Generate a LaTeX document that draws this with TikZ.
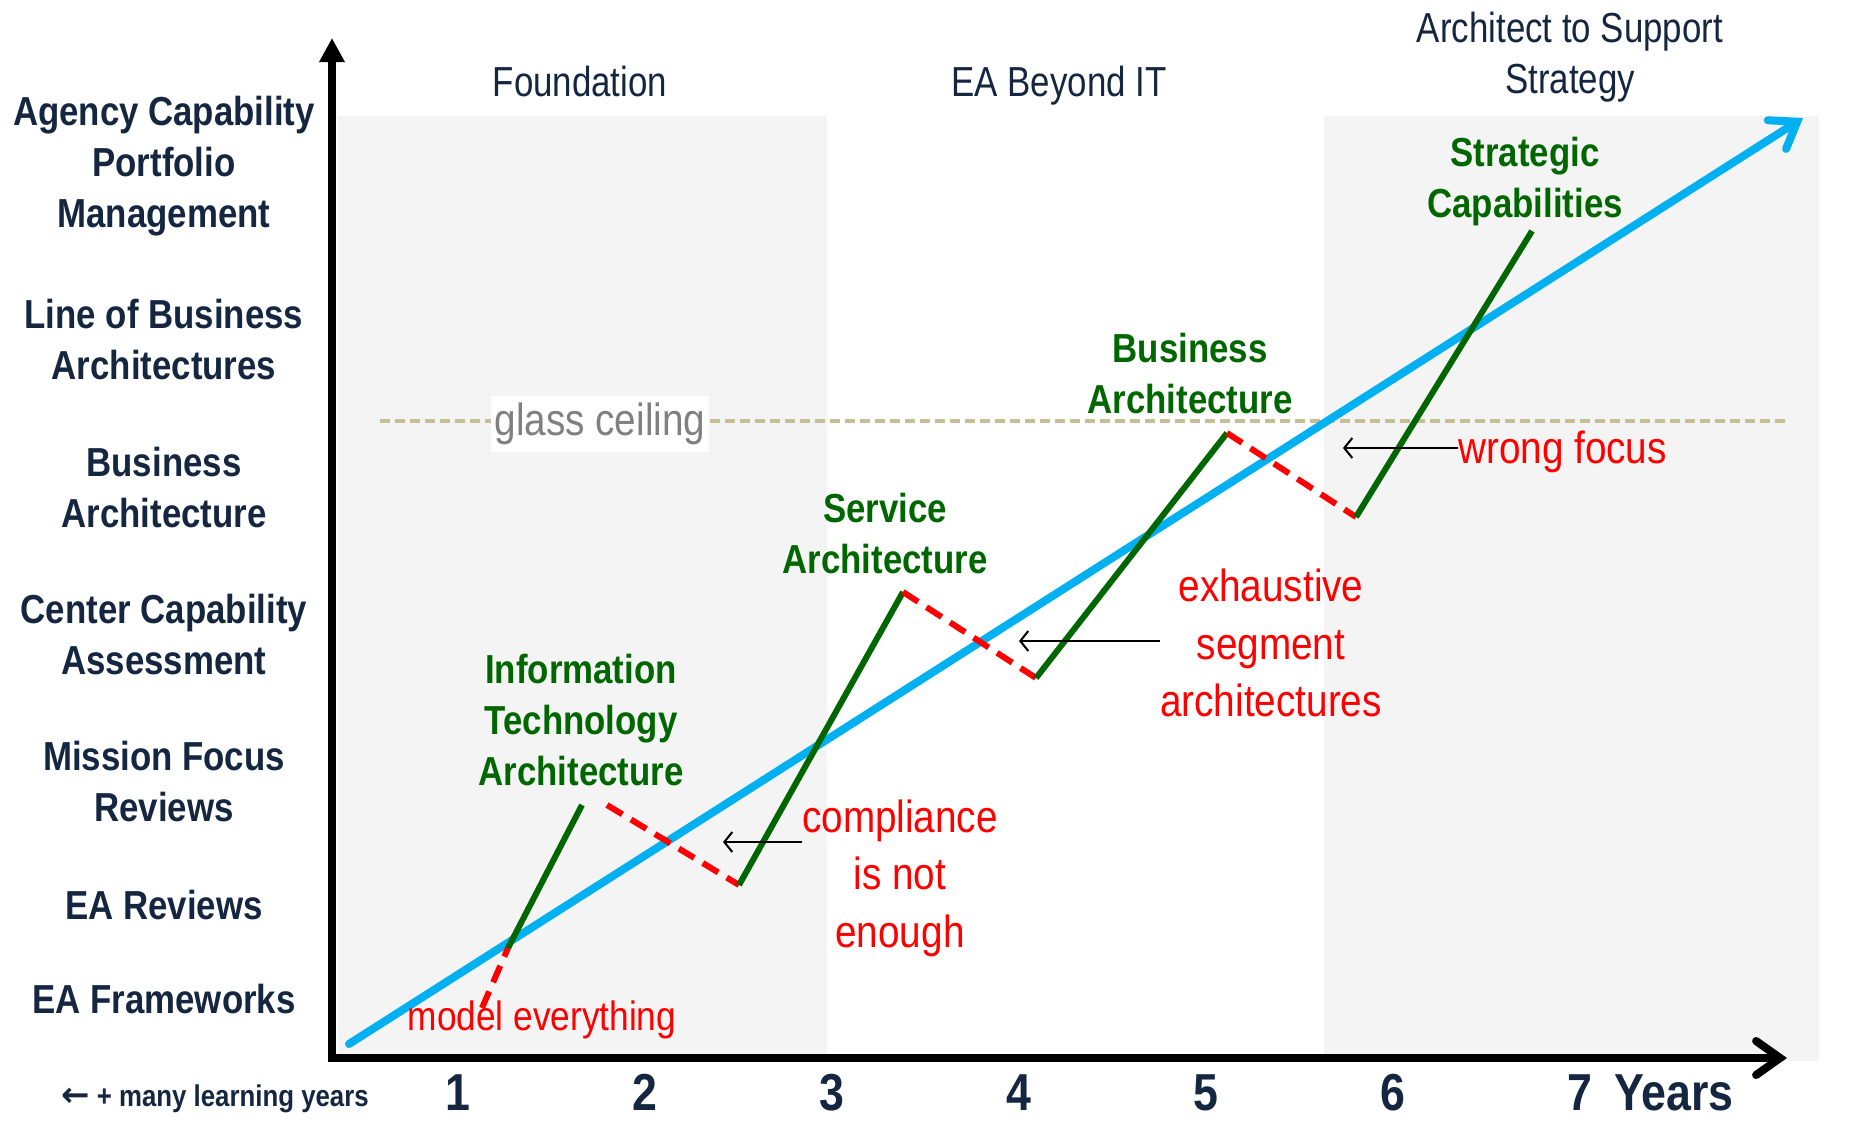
\documentclass[tikz,border=0pt]{standalone}
\usepackage{fontspec}
\setmainfont{Liberation Sans}[FakeStretch=0.86]
\newfontfamily\phasefont{Liberation Sans}[FakeStretch=0.83]
\newfontfamily\arrowfont{DejaVu Sans}
\usepackage{xcolor}
\usetikzlibrary{arrows.meta}

\definecolor{eatext}{RGB}{20,38,64}
\definecolor{eagreen}{RGB}{0,102,0}
\definecolor{eared}{RGB}{255,0,0}
\definecolor{eablue}{RGB}{0,176,240}
\definecolor{bandgray}{RGB}{244,244,244}
\definecolor{ceilingtan}{RGB}{200,190,150}
\definecolor{glassgray}{RGB}{128,128,128}

\begin{document}
\begin{tikzpicture}[x=1pt, y=-1pt,
    levellabel/.style={font=\fontsize{40.5}{51}\selectfont\bfseries, text=eatext, align=center, inner sep=0pt},
    phaselabel/.style={font=\fontsize{42}{51}\selectfont\phasefont, text=eatext, align=center, inner sep=0pt},
    yearlabel/.style={font=\fontsize{52}{56}\selectfont\bfseries, text=eatext, inner sep=0pt, anchor=base},
    stagelabel/.style={font=\fontsize{40.5}{51}\selectfont\bfseries, text=eagreen, align=center, inner sep=0pt},
    pitfalllabel/.style={font=\fontsize{45}{57.5}\selectfont, text=eared, align=center, inner sep=0pt},
    stageline/.style={eagreen, line width=6pt},
    pitfallline/.style={eared, line width=6pt, dash pattern=on 18pt off 10pt},
    pointer/.style={black, line width=2pt, -{Straight Barb[length=8pt,width=20pt]}}]
    \useasboundingbox (0,0) rectangle (1875,1122);

    % Bands
    \fill[bandgray] (338,116) rectangle (827,1061);
    \fill[bandgray] (1324,116) rectangle (1819,1061);

    % Glass ceiling
    \coordinate (ceilL) at (380,421);
    \coordinate (ceilR) at (1785,421);
    \draw[ceilingtan, line width=4pt, dash pattern=on 10pt off 5pt] (ceilL) -- (ceilR);
    \node[fill=white, inner xsep=4pt, inner ysep=7pt, text=glassgray, font=\fontsize{45}{50}\selectfont] (glass) at (600,424) {glass ceiling};

    % Growth line
    \coordinate (gstart) at (349,1044);
    \coordinate (gend) at (1803,118);
    \draw[eablue, line width=8pt, line cap=round, -{Straight Barb[length=24pt,width=34pt,line cap=round]}] (gstart) -- (gend);

    % Stages and pitfalls
    \coordinate (z0) at (482,1008);
    \coordinate (z1) at (508,948);
    \coordinate (z2) at (582,805);
    \coordinate (z3) at (607,805);
    \coordinate (z4) at (739,885);
    \coordinate (z5) at (903,592);
    \coordinate (z6) at (1036,678);
    \coordinate (z7) at (1227,433);
    \coordinate (z8) at (1356,517);
    \coordinate (z9) at (1532,231);
    \draw[pitfallline] (z0) -- (z1);
    \draw[stageline] (z1) -- (z2);
    \draw[pitfallline] (z3) -- (z4);
    \draw[stageline] (z4) -- (z5);
    \draw[pitfallline] (z5) -- (z6);
    \draw[stageline] (z6) -- (z7);
    \draw[pitfallline] (z7) -- (z8);
    \draw[stageline] (z8) -- (z9);

    % Axes
    \coordinate (ytop) at (332,38);
    \coordinate (origin) at (332,1058);
    \coordinate (xend) at (1787,1058);
    \draw[black, line width=8pt, {Triangle[length=24pt,width=24pt]}-{Straight Barb[length=24pt,width=34pt,line cap=round]}] (ytop) -- (origin) -- (xend);

    % Phases
    \node[phaselabel, anchor=base] (foundation) at (580,96) {Foundation};
    \node[phaselabel, anchor=base] (beyond) at (1059,96) {EA Beyond IT};
    \node[phaselabel] (strategy) at (1570,57) {Architect to Support\\Strategy};

    % Levels
    \node[levellabel] (agency) at (164,166) {Agency Capability\\Portfolio\\Management};
    \node[levellabel] (lob) at (164,340) {Line of Business\\Architectures};
    \node[levellabel] (busarch) at (164,488) {Business\\Architecture};
    \node[levellabel] (center) at (164,635) {Center Capability\\Assessment};
    \node[levellabel] (mission) at (164,782) {Mission Focus\\Reviews};
    \node[levellabel] (reviews) at (164,905) {EA Reviews};
    \node[levellabel] (frameworks) at (164,999) {EA Frameworks};

    % Years
    \node[levellabel, font=\fontsize{30}{36}\selectfont\bfseries] (learning) at (215,1099) {{\arrowfont\fontsize{34}{36}\selectfont ←} + many learning years};
    \foreach \n in {1,...,7}
        \node[yearlabel] (year\n) at ({458+187*(\n-1)},1110) {\n};
    \node[yearlabel] (years) at (1674,1110) {Years};

    % Stage labels
    \node[stagelabel] (itarch) at (581,720) {Information\\Technology\\Architecture};
    \node[stagelabel] (service) at (885,534) {Service\\Architecture};
    \node[stagelabel] (business) at (1190,374) {Business\\Architecture};
    \node[stagelabel] (strategic) at (1525,182) {Strategic\\Capabilities};

    % Pitfall labels
    \node[pitfalllabel, font=\fontsize{41}{50}\selectfont] (model) at (542,1020) {model everything};
    \node[pitfalllabel] (compliance) at (900,878) {compliance\\is not\\enough};
    \node[pitfalllabel] (segment) at (1271,643) {exhaustive\\segment\\architectures};
    \node[pitfalllabel, anchor=west] (focus) at (1458,452) {wrong focus};

    % Pointers
    \coordinate (compltip) at (723,842);
    \coordinate (segtip) at (1019,641);
    \coordinate (focustip) at (1343,448);
    \draw[pointer] (compliance.west |- compltip) -- (compltip);
    \draw[pointer] (segment.west |- segtip) -- (segtip);
    \draw[pointer] (focus.west |- focustip) -- (focustip);
\end{tikzpicture}
\end{document}
